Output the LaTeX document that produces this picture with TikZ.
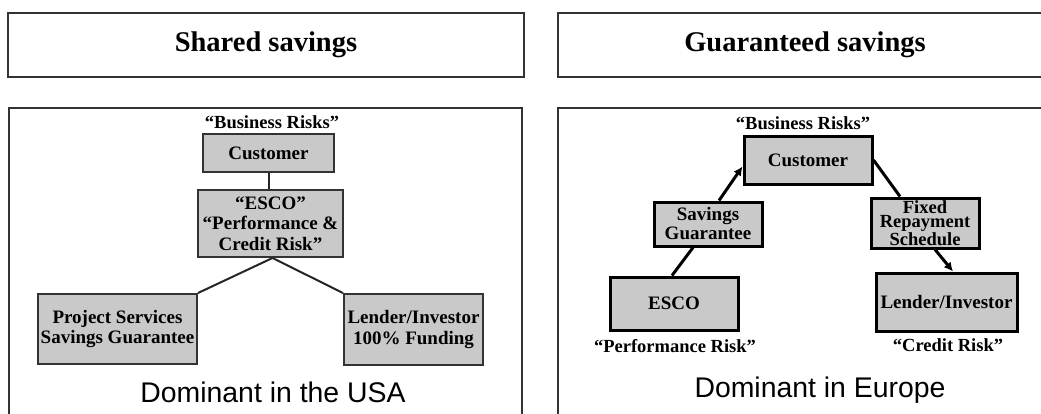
\documentclass[tikz,border=0pt]{standalone}
\usepackage{fontspec}
\setmainfont{Liberation Serif}
\newfontfamily\dsans{Liberation Sans}
\usetikzlibrary{arrows.meta}
\begin{document}
\begin{tikzpicture}[x=1pt,y=-1pt,
  frame/.style={draw=black!80,line width=2pt},
  lbox/.style={draw=black!80,line width=2pt,fill=black!21,inner sep=0pt,
    font=\fontsize{19}{20.5}\selectfont\bfseries,align=center},
  rbox/.style={draw=black,line width=3pt,fill=black!21,inner sep=0pt,
    font=\fontsize{19}{19}\selectfont\bfseries,align=center},
  lab/.style={inner sep=0pt,font=\fontsize{18.5}{20.5}\selectfont\bfseries},
  title/.style={inner sep=0pt,font=\fontsize{28.5}{30}\selectfont\bfseries},
  dom/.style={inner sep=0pt,font=\dsans\fontsize{28.4}{30}\selectfont},
  lline/.style={draw=black!85,line width=2pt},
  rline/.style={draw=black,line width=3pt},
  rarrow/.style={rline,-{Latex[length=9pt,width=9pt]}}
]
\useasboundingbox (0,0) rectangle (1041,413);
% header boxes
\draw[frame] (8,12.5) rectangle (524,76.5);
\draw[frame] (558,12.5) rectangle (1050,76.5);
\node[title] (t1) at (266,45) {Shared savings};
\node[title] (t2) at (805,45) {Guaranteed savings};
% lower panels
\draw[frame] (9,420) -- (9,107.5) -- (522,107.5) -- (522,420);
\draw[frame] (558,420) -- (558,107.5) -- (1050,107.5);
% left panel
\node[lab] (lbr) at (272,122) {“Business Risks”};
\node[lbox,minimum width=131pt,minimum height=38pt] (lc) at (268.5,153) {Customer};
\node[lbox,minimum width=145pt,minimum height=67pt] (le) at (270.5,223.5)
  {“ESCO”\\“Performance \&\\Credit Risk”};
\node[lbox,minimum width=159pt,minimum height=70pt] (lp) at (117.5,329)
  {Project Services\\Savings Guarantee};
\node[lbox,minimum width=139pt,minimum height=71pt] (ll) at (413.5,329.5)
  {Lender/Investor\\100\% Funding};
\draw[lline] (lc.south) -- (lc.south |- le.north);
\draw[lline] ([xshift=2pt]le.south) -- (lp.north east);
\draw[lline] ([xshift=2pt]le.south) -- (ll.north west);
\node[dom] (d1) at (273,392) {Dominant in the USA};
% right panel
\node[lab] (rbr) at (803,123) {“Business Risks”};
\node[rbox,minimum width=128pt,minimum height=48pt] (rc) at (808,160) {Customer};
\node[rbox,minimum width=108pt,minimum height=44pt] (rs) at (708,224)
  {Savings\\Guarantee};
\node[rbox,minimum width=108pt,minimum height=50pt,
  font=\fontsize{18.5}{14.5}\selectfont\bfseries] (rf) at (925,223)
  {Fixed\\Repayment\\Schedule};
\node[rbox,minimum width=128pt,minimum height=53pt] (re) at (674,303.5) {ESCO};
\node[rbox,minimum width=141pt,minimum height=58pt] (rl) at (946.5,302) {Lender/Investor};
\draw[rline] ([xshift=-2pt]re.north) -- ([xshift=-15pt]rs.south);
\draw[rarrow] ([xshift=11pt]rs.north) -- ([yshift=19pt]rc.south west);
\draw[rline] (rc.east) -- ([xshift=-25pt]rf.north);
\draw[rarrow] ([xshift=10pt]rf.south) -- ([xshift=6.5pt]rl.north);
\node[lab] (rpr) at (675,346) {“Performance Risk”};
\node[lab] (rcr) at (948,345) {“Credit Risk”};
\node[dom] (d2) at (820,390) {Dominant in Europe};
\end{tikzpicture}
\end{document}
